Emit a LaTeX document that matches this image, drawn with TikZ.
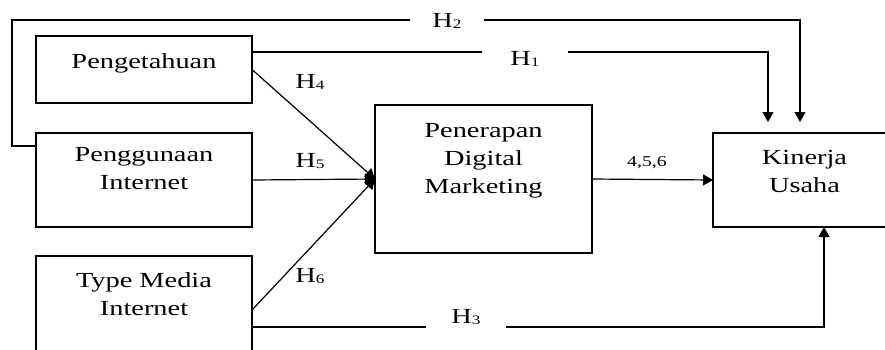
\documentclass[tikz,border=0pt]{standalone}
\usepackage{fontspec}
\setmainfont{Liberation Serif}[FakeStretch=1.32]
\usetikzlibrary{arrows.meta}
\newcommand{\hlab}[1]{H\raisebox{-1.5pt}{\fontsize{13}{13}\selectfont #1}}

\begin{document}
\begin{tikzpicture}[x=1pt,y=-1pt,line width=1.2pt,
    >={Triangle[length=10pt,width=11pt]},
    boxtext/.style={inner sep=0pt,align=center,
        font=\fontsize{21.5}{28}\selectfont},
    hyp/.style={inner sep=0pt,font=\fontsize{21.5}{26}\selectfont}]
\clip (0,0) rectangle (885,349);

\begin{scope}[every node/.style={draw,rectangle,inner sep=0pt,outer sep=0pt}]
    \node[minimum width=216pt,minimum height=67pt] (pe) at (144,69.5) {};
    \node[minimum width=216pt,minimum height=94pt] (pi) at (144,180) {};
    \node[minimum width=216pt,minimum height=96pt] (tm) at (144,304) {};
    \node[minimum width=217pt,minimum height=148pt] (pd) at (483.5,179) {};
    \node[minimum width=183pt,minimum height=94pt] (ku) at (804.5,180) {};
\end{scope}

\node[boxtext,below=16.5pt] (tpe) at (pe.north) {Pengetahuan};
\node[boxtext,below=14pt] (tpi) at (pi.north) {Penggunaan\\Internet};
\node[boxtext,below=15.5pt] (ttm) at (tm.north) {Type Media\\Internet};
\node[boxtext,below=18pt] (tpd) at (pd.north) {Penerapan\\Digital\\Marketing};
\node[boxtext,below=16.5pt] (tku) at (ku.north) {Kinerja\\Usaha};

\node[hyp,inner xsep=28pt] (h1) at (525,59) {\hlab{1}};
\node[hyp,inner xsep=22pt] (h2) at (447,21) {\hlab{2}};
\node[hyp,inner xsep=25pt] (h3) at (466,317) {\hlab{3}};
\node[hyp] (h4) at (310,82) {\hlab{4}};
\node[hyp] (h5) at (310,161) {\hlab{5}};
\node[hyp] (h6) at (310,276) {\hlab{6}};
\node[font=\fontsize{15}{18}\selectfont,inner sep=0pt] (m456) at (647,163) {4,5,6};

\begin{scope}[every edge/.style={draw=black,->}]
    \path (pe.east) edge (pd.west);
    \path (pi.east) edge (pd.west);
    \path ([yshift=-6pt]tm.east) edge (pd.west);
    \path (pd.east) edge (ku.west);
\end{scope}

% direct paths to Kinerja Usaha
\coordinate (s1) at ([yshift=-16pt]pe.north east);
\coordinate (s2) at ([yshift=-13pt]pi.north west);
\coordinate (s3) at ([yshift=-23pt]tm.east);
\draw (s1) -- (s1 -| h1.west);
\draw[->,shorten >=11pt] (h1.east |- s1) -| ([xshift=-36.5pt]ku.north);
\draw (s2) -- ++(-24,0) |- (h2.west |- 0,20);
\draw[->,shorten >=11pt] (h2.east |- 0,20) -| ([xshift=-4.5pt]ku.north);
\draw (s3) -- (h3.west |- s3);
\draw[->] (h3.east |- s3) -| ([xshift=19.5pt]ku.south);
\end{tikzpicture}
\end{document}
